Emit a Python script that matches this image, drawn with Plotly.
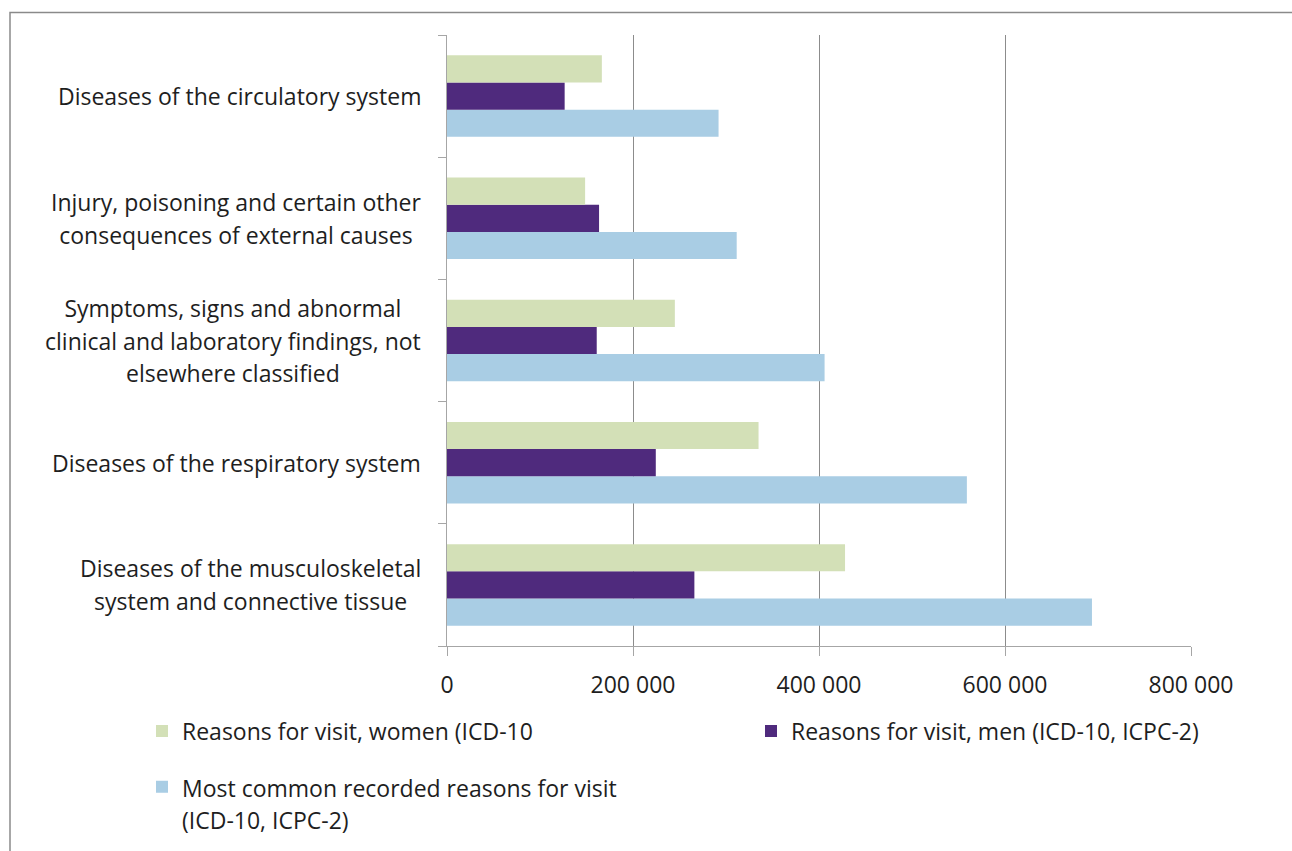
import plotly.graph_objects as go

# ---- data ----
categories = [
    "Diseases of the musculoskeletal<br>system and connective tissue",
    "Diseases of the respiratory system",
    "Symptoms, signs and abnormal<br>clinical and laboratory findings, not<br>elsewhere classified",
    "Injury, poisoning and certain other<br>consequences of external causes",
    "Diseases of the circulatory system",
]
women = [428000, 335000, 245000, 148500, 166500]
men = [266000, 224500, 161000, 163500, 126500]
most_common = [693500, 559000, 406000, 311500, 292000]

name_women = "Reasons for visit, women (ICD-10"
name_men = "Reasons for visit, men (ICD-10, ICPC-2)"
name_common = "Most common recorded reasons for visit<br>(ICD-10, ICPC-2)"

x_ticks = [0, 200000, 400000, 600000, 800000]

# ---- style ----
FONT = "Open Sans"
FS = 23
TXT = "#1e1e1e"
C_WOMEN = "#D3E0B7"
C_MEN = "#4F2A7D"
C_COMMON = "#A9CDE4"

L, R, T, B = 447, 101, 35, 205
W, H = 1292, 851
PW, PH = W - L - R, H - T - B


def spaced(text, size=FS):
    return "<br>".join(f"<span style='font-size:{size}px'>{ln}</span>" for ln in text.split("<br>"))


def px_x(px):
    return (px - L) / PW


def px_y(py):
    return (H - B - py) / PH


fig = go.Figure()
fig.add_trace(go.Bar(y=categories, x=most_common, orientation="h", name=spaced(name_common),
                     marker=dict(color=C_COMMON, line=dict(width=0)), legend="legend2"))
fig.add_trace(go.Bar(y=categories, x=men, orientation="h", name=name_men,
                     marker=dict(color=C_MEN, line=dict(width=0)), legend="legend3"))
fig.add_trace(go.Bar(y=categories, x=women, orientation="h", name=name_women,
                     marker=dict(color=C_WOMEN, line=dict(width=0)), legend="legend"))

annotations = []
for cat in categories:
    annotations.append(dict(
        x=0, xref="paper", xanchor="right", xshift=-24,
        y=cat, yref="y", yanchor="middle",
        text=spaced(cat), align="center", showarrow=False,
        font=dict(family=FONT, size=25, color=TXT),
    ))

legend_common = dict(orientation="h", xanchor="left", yanchor="middle",
                     font=dict(family=FONT, size=FS, color=TXT), bgcolor="rgba(0,0,0,0)")

fig.update_layout(
    width=W, height=H,
    margin=dict(l=L, r=R, t=T, b=B, pad=0, autoexpand=False),
    paper_bgcolor="white", plot_bgcolor="white",
    font=dict(family=FONT, size=FS, color=TXT),
    separators=". ",
    showlegend=True,
    barmode="group", bargap=0.333, bargroupgap=0,
    xaxis=dict(
        range=[0, 800000], tickvals=x_ticks, tickformat=",d",
        showgrid=True, gridcolor="#8c8c8c", gridwidth=1,
        showline=True, linecolor="#a6a6a6", linewidth=1,
        ticks="outside", ticklen=9, tickcolor="#a6a6a6",
        zeroline=False, tickfont=dict(size=FS, color=TXT),
        ticklabelstandoff=9,
    ),
    yaxis=dict(
        type="category", showticklabels=False, showgrid=False,
        showline=True, linecolor="#a6a6a6", linewidth=1,
        ticks="outside", tickson="boundaries", ticklen=8, tickcolor="#a6a6a6",
        zeroline=False,
    ),
    legend=dict(legend_common, x=px_x(142), y=px_y(731)),
    legend3=dict(legend_common, x=px_x(751), y=px_y(731)),
    legend2=dict(legend_common, x=px_x(142), y=px_y(803), valign="top",
                 font=dict(family=FONT, size=25, color=TXT)),
    annotations=annotations,
    shapes=[dict(
        type="rect", xref="paper", yref="paper",
        x0=px_x(10), x1=px_x(W + 20),
        y0=px_y(H + 20), y1=px_y(12.5),
        line=dict(color="#8a8a8a", width=1.5), fillcolor="rgba(0,0,0,0)", layer="below",
    )],
)

fig.write_html("out.html", config={"displayModeBar": False},
               post_script="document.body.style.margin='0';")
